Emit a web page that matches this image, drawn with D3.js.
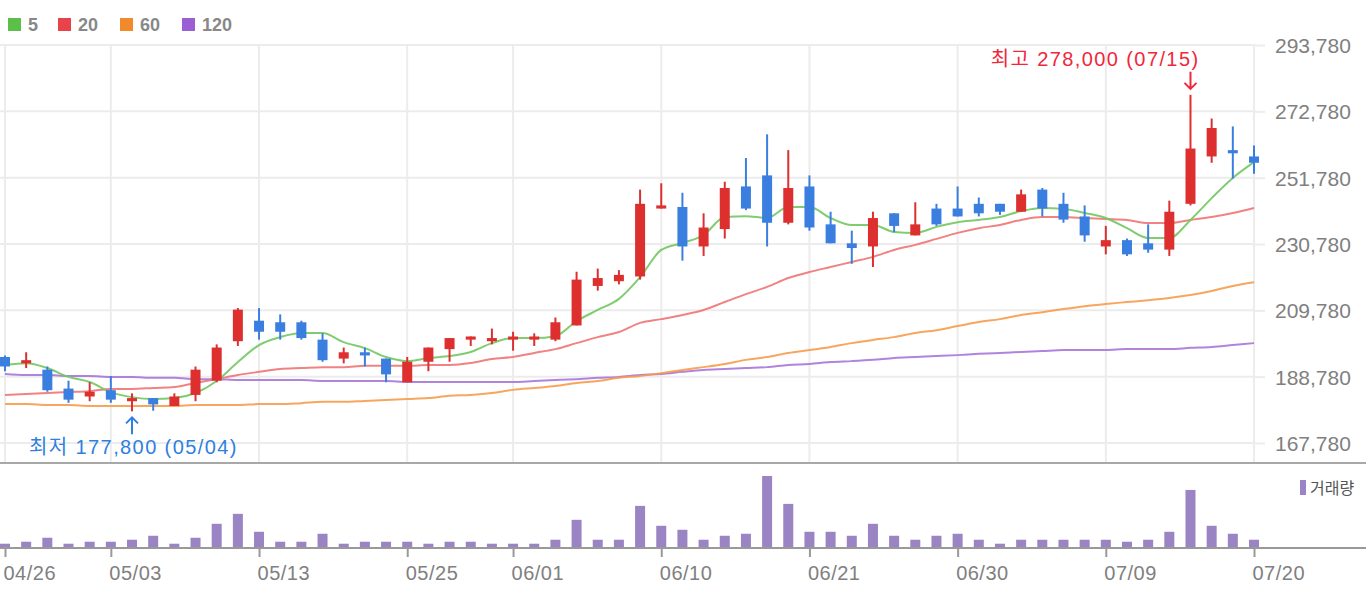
<!DOCTYPE html>
<html>
<head>
<meta charset="utf-8">
<script src="https://cdn.jsdelivr.net/npm/d3@7"></script>
<style>
  html, body { margin: 0; padding: 0; background: #fff; }
  svg { display: block; }
</style>
</head>
<body>
<svg id="chart" width="1366" height="596"></svg>
<script>
// ---------------- DATA ----------------
const dates = ["04/26","04/27","04/28","04/29","04/30",
  "05/03","05/04","05/06","05/07","05/10","05/11","05/12","05/13","05/14","05/17","05/18","05/20","05/21","05/24","05/25","05/26","05/27","05/28","05/31",
  "06/01","06/02","06/03","06/04","06/07","06/08","06/09","06/10","06/11","06/14","06/15","06/16","06/17","06/18","06/21","06/22","06/23","06/24","06/25","06/28","06/29","06/30",
  "07/01","07/02","07/05","07/06","07/07","07/08","07/09","07/12","07/13","07/14","07/15","07/16","07/19","07/20"];

const openP  = [195000,193000,191000,185000,182500,184500,181000,182000,179500,183000,
                187500,200000,206500,206000,206000,200500,194500,196500,194500,187000,
                193500,197500,200500,200000,200500,200500,200500,205000,217500,219000,
                220500,242000,242500,230000,235500,249000,252500,237500,249000,237000,
                231000,230000,240500,233500,242000,242000,243500,243500,241000,248000,
                243500,239500,230000,232000,231000,229000,243500,258500,260500,258500];
const highP  = [195500,196500,192000,187500,187000,189000,183500,182000,183500,192000,
                199000,210500,210500,208500,206500,202500,198000,198000,194500,195000,
                198000,201000,201500,204000,203000,202500,207500,222000,223000,222500,
                248000,250000,247000,240500,250500,258000,265500,260500,252500,241000,
                235000,241000,240500,244000,243500,249000,245500,243500,248000,248500,
                247000,243000,236500,232500,237000,244500,278000,270500,268000,262000];
const lowP   = [190500,191500,184000,180500,181000,180500,177800,178000,179500,181000,
                187000,198500,200500,200500,200500,193500,193000,192000,187000,187000,
                190500,193500,198500,199000,197000,198500,200000,205000,216000,218000,
                219500,242000,225500,227000,232500,241500,230000,237000,235000,231000,
                224500,223500,234500,233500,236500,239500,239500,240000,241000,239500,
                237500,231500,227500,227000,228000,227000,243000,256500,251500,253000];
const closeP = [192000,194000,184500,181500,184000,181500,182000,180000,182500,191000,
                198000,210000,203000,203000,201000,194000,196500,195500,189500,193500,
                198000,201000,201500,201000,201500,201500,206000,219500,220000,221000,
                243500,243000,230000,236000,248500,242000,237500,248500,236000,231000,
                229500,239000,236500,237000,237000,239500,240500,241000,246500,242000,
                238500,233500,232000,227500,229000,241000,261000,267500,259500,256500];
const volume = [43,63,103,43,63,63,83,123,43,103,
                243,343,163,63,63,143,43,63,63,63,
                43,63,63,43,43,43,83,283,83,83,
                423,223,183,83,123,143,723,443,163,163,
                123,243,123,83,123,143,83,43,83,83,
                83,83,83,63,83,163,583,223,143,83];

const ma5   = [192500,193000,191500,188700,187100,183900,182300,181700,182000,183600,
               187400,193400,198800,201300,202600,202600,199700,197800,195000,193700,
               194700,195300,196600,199400,201000,201000,201600,206400,209900,213400,
               220300,228900,231100,233600,239300,239600,239000,242500,242500,239000,
               236800,236800,234600,234300,236200,237700,238400,239300,241200,242200,
               241900,240600,239000,235800,232700,232700,238400,245300,251700,256700];
const ma20  = [183000,183300,183600,183900,184200,184900,184900,185200,185500,186800,
               188000,189300,190300,191200,191500,191800,191800,192200,192200,192200,
               192500,192500,193100,194400,195000,196300,197500,199400,201300,202900,
               205800,207000,208300,209900,212400,214900,217200,220000,221900,223500,
               225100,226700,228900,230500,232400,234300,235800,236800,238400,239300,
               239300,239000,238700,238400,237400,237400,238400,239300,240600,242200];
const ma60  = [180100,180100,179800,179800,179500,179500,179500,179500,179500,179800,
               179800,179800,180100,180100,180400,180800,180800,181100,181400,181700,
               182000,182700,183000,183600,184600,185200,185800,186800,187400,188400,
               189000,189900,190900,191800,192800,194100,195000,196300,197200,198200,
               199400,200400,201300,202600,203500,204800,206100,207000,208300,209200,
               210200,211100,211800,212400,213000,213700,214600,215900,217500,218700];
const ma120 = [189600,189300,189300,189000,189000,188700,188700,188400,188400,188000,
               188000,187700,187700,187700,187700,187400,187400,187400,187400,187100,
               187100,187100,187100,187100,187100,187400,187700,188000,188400,188700,
               189300,189600,190300,190900,191200,191500,191800,192500,192800,193400,
               193700,194100,194700,195000,195300,195600,196000,196300,196600,196900,
               197200,197200,197200,197500,197500,197500,197900,198200,198800,199400];

const yTicks = [167780,188780,209780,230780,251780,272780,293780];
const xTickLabels = ["04/26","05/03","05/13","05/25","06/01","06/10","06/21","06/30","07/09","07/20"];
const maNames = ["5","20","60","120"];
const volumeLabel = "거래량";

// ---------------- STYLE ----------------
const FONT = "'Liberation Sans', 'Noto Sans CJK KR', Arial, sans-serif";
const UP = "#de2f2f", DOWN = "#3a7fe0";
const maColors = ["#72c862", "#f07474", "#f79b4b", "#a776da"];
const legendColors = ["#5cbf4a", "#e8434a", "#f08a2a", "#9b5fd4"];

const svg = d3.select("#chart");
const n = dates.length;
const idx = d3.range(n);

const x = d3.scaleLinear().domain([0, n - 1]).range([5, 1254]);
const y = d3.scaleLinear().domain([167780, 293780]).range([443, 45]);
const yV = d3.scaleLinear().domain([0, d3.max(volume)]).range([548, 476]);

const tickIdx = xTickLabels.map(l => dates.indexOf(l));

// grid
const grid = svg.append("g");
grid.selectAll("line.h").data(yTicks).join("line")
  .attr("x1", 0).attr("x2", 1255)
  .attr("y1", d => y(d)).attr("y2", d => y(d))
  .attr("stroke", "#ececec").attr("stroke-width", 2);
grid.selectAll("line.v").data(tickIdx).join("line")
  .attr("x1", d => x(d)).attr("x2", d => x(d))
  .attr("y1", 44).attr("y2", 463)
  .attr("stroke", "#ececec").attr("stroke-width", 2);

// y axis (right)
const yAxis = svg.append("g").attr("transform", "translate(1255,0)")
  .call(d3.axisRight(y).tickValues(yTicks).tickSize(10).tickPadding(10).tickFormat(d3.format(",")));
yAxis.select(".domain").remove();
yAxis.selectAll(".tick line").attr("stroke", "#ececec").attr("stroke-width", 2);
yAxis.selectAll(".tick text").attr("fill", "#808080").attr("font-family", FONT)
  .attr("font-size", 21).attr("dy", "0.36em");

// MA lines
const maData = [ma5, ma20, ma60, ma120];
const lineGen = arr => d3.line().x(i => x(i)).y(i => y(arr[i])).curve(d3.curveMonotoneX)(idx);
[3, 2, 1, 0].forEach(k => {
  svg.append("path").attr("d", lineGen(maData[k]))
    .attr("fill", "none").attr("stroke", maColors[k]).attr("stroke-width", 2)
    .attr("stroke-opacity", 0.9);
});

// candles
const cg = svg.append("g");
idx.forEach(i => {
  const up = closeP[i] >= openP[i];
  const col = up ? UP : DOWN;
  cg.append("line").attr("x1", x(i)).attr("x2", x(i))
    .attr("y1", y(highP[i])).attr("y2", y(lowP[i]))
    .attr("stroke", col).attr("stroke-width", 2);
  const top = y(Math.max(openP[i], closeP[i]));
  const bot = y(Math.min(openP[i], closeP[i]));
  const h = Math.max(3, bot - top);
  cg.append("rect").attr("x", x(i) - 5).attr("width", 10)
    .attr("y", (top + bot) / 2 - h / 2).attr("height", h)
    .attr("fill", col);
});

// high / low annotations
const hiI = d3.maxIndex(highP), loI = d3.minIndex(lowP);
const fmt = d3.format(",");
const ann = svg.append("g");
const hx = x(hiI), hy = y(highP[hiI]);
ann.append("path").attr("d", `M${hx},${hy - 23}L${hx},${hy - 6}M${hx - 6},${hy - 12}L${hx},${hy - 6}L${hx + 6},${hy - 12}`)
  .attr("fill", "none").attr("stroke", "#f0283c").attr("stroke-width", 2);
ann.append("text").attr("x", hx + 9).attr("y", hy - 29).attr("text-anchor", "end")
  .attr("fill", "#f0283c").attr("font-family", FONT).attr("font-size", 20).attr("letter-spacing", 1.4)
  .text(`최고 ${fmt(highP[hiI])} (${dates[hiI]})`);
const lx = x(loI), ly = y(lowP[loI]);
ann.append("path").attr("d", `M${lx},${ly + 23}L${lx},${ly + 6}M${lx - 6},${ly + 12}L${lx},${ly + 6}L${lx + 6},${ly + 12}`)
  .attr("fill", "none").attr("stroke", "#2f7fe0").attr("stroke-width", 2);
ann.append("text").attr("x", 29).attr("y", ly + 42.5).attr("text-anchor", "start")
  .attr("fill", "#2f7fe0").attr("font-family", FONT).attr("font-size", 20).attr("letter-spacing", 1.4)
  .text(`최저 ${fmt(lowP[loI])} (${dates[loI]})`);

// separator line
svg.append("line").attr("x1", 0).attr("x2", 1366).attr("y1", 463).attr("y2", 463)
  .attr("stroke", "#a8a8a8").attr("stroke-width", 2);

// volume bars
svg.append("g").selectAll("rect").data(idx).join("rect")
  .attr("x", i => x(i) - 5).attr("width", 10)
  .attr("y", i => yV(volume[i])).attr("height", i => 548 - yV(volume[i]))
  .attr("fill", "#9a84c4");

// x axis
const xAxis = svg.append("g").attr("transform", "translate(0,548)")
  .call(d3.axisBottom(x).tickValues(tickIdx).tickSize(9).tickFormat(i => dates[i]));
xAxis.select(".domain").remove();
svg.append("line").attr("x1", 0).attr("x2", 1366).attr("y1", 548).attr("y2", 548)
  .attr("stroke", "#999").attr("stroke-width", 2);
xAxis.selectAll(".tick line").attr("stroke", "#999").attr("stroke-width", 2);
xAxis.selectAll(".tick text").attr("fill", "#808080").attr("font-family", FONT)
  .attr("font-size", 20).attr("text-anchor", "start").attr("x", -2)
  .attr("y", 32).attr("dy", 0).attr("letter-spacing", 0.5);

// volume legend
svg.append("rect").attr("x", 1300).attr("y", 480).attr("width", 6).attr("height", 15).attr("fill", "#9a84c4");
svg.append("text").attr("x", 1310).attr("y", 494).attr("fill", "#555").attr("font-family", FONT)
  .attr("font-size", 16).text(volumeLabel);

// MA legend
const legX = [8, 58, 120, 182];
const lg = svg.append("g");
maNames.forEach((nm, k) => {
  lg.append("rect").attr("x", legX[k]).attr("y", 18).attr("width", 13).attr("height", 13)
    .attr("fill", legendColors[k]);
  lg.append("text").attr("x", legX[k] + 20).attr("y", 31).attr("fill", "#888")
    .attr("font-family", FONT).attr("font-size", 18).attr("font-weight", "bold").text(nm);
});
</script>
</body>
</html>
